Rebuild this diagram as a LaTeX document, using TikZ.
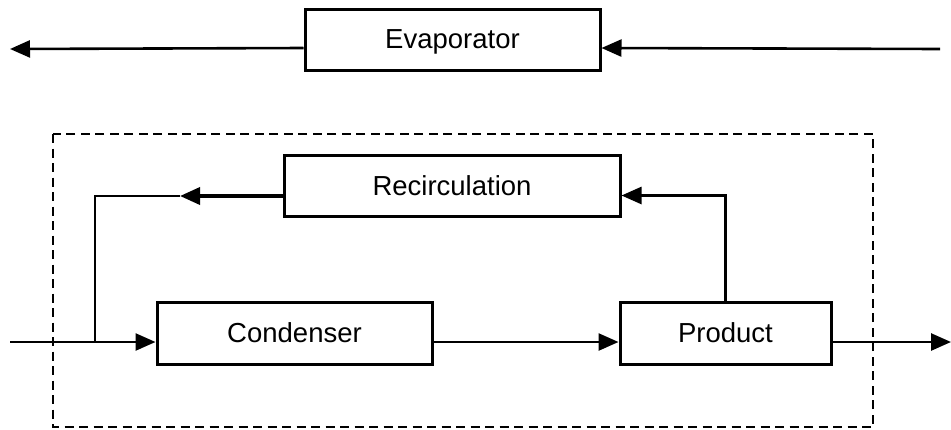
\documentclass[tikz,border=0pt]{standalone}
\usepackage{fontspec}
\setmainfont{Liberation Sans}
\usetikzlibrary{arrows.meta}
\begin{document}
\begin{tikzpicture}[x=1pt,y=-1pt,
  box/.style={draw, line width=3pt, inner sep=0pt, text depth=0pt, font=\fontsize{27.5}{32}\selectfont},
  flow/.style={line width=2.6pt, -{Triangle[length=20pt,width=17pt]}},
  heavyflow/.style={line width=3.6pt, -{Triangle[length=20pt,width=17pt]}},
  plain/.style={line width=2.6pt},
  frame/.style={draw, line width=2.8pt, dash pattern=on 9pt off 5.5pt}]
\useasboundingbox (0,0) rectangle (951,429);

% process units
\node[box, minimum width=295pt, minimum height=61pt] (evap) at (452.5,39.5) {Evaporator};
\node[box, minimum width=336pt, minimum height=61pt] (recirc) at (452,185.5) {Recirculation};
\node[box, minimum width=275pt, minimum height=62pt] (cond) at (294.5,333) {Condenser};
\node[box, minimum width=211pt, minimum height=62pt] (prod) at (725.5,333) {Product};

% system boundary
\draw[frame] (53,134) rectangle (873,427);

% evaporator stream
\coordinate (evapout) at (10,49);
\coordinate (evapin) at (940,49);
\draw[flow] ([yshift=-8.5pt]evap.west) -- (evapout);
\draw[flow] (evapin) -- ([yshift=-8.5pt]evap.east);

% feed, transfer and product streams
\coordinate (feed) at (10,342);
\coordinate (outlet) at (951,342);
\coordinate (junction) at (95,342);
\draw[flow] (feed) -- ([yshift=-9pt]cond.west);
\draw[flow] ([yshift=-9pt]cond.east) -- ([yshift=-9pt]prod.west);
\draw[flow] ([yshift=-9pt]prod.east) -- (outlet);

% recirculation loop
\coordinate (rtip) at (180,196);
\coordinate (rcorner) at (95,196);
\draw[heavyflow] ([yshift=-10.5pt]recirc.west) -- (rtip);
\draw[plain] (rtip) -- (rcorner) -- (junction);
\draw[flow] (prod.north) |- ([yshift=-10pt]recirc.east);
\end{tikzpicture}
\end{document}
